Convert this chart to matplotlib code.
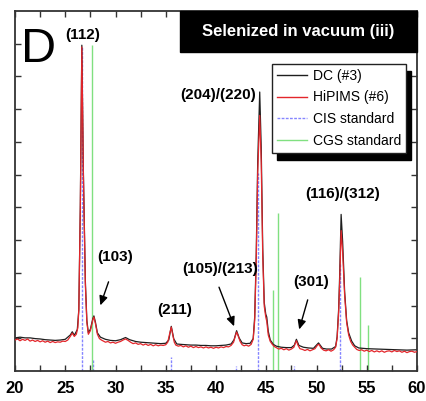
import matplotlib
matplotlib.use('Agg')
import matplotlib.pyplot as plt
import numpy as np
from matplotlib.lines import Line2D
from matplotlib.patches import Rectangle

# ---------------- data (intensity in arbitrary units, 0-100) ----------------
dc_x = [20.0, 20.5, 21.0, 21.5, 22.0, 22.5, 23.0, 23.5, 24.0, 24.5, 25.0, 25.5, 25.7, 25.9,
        26.2, 26.35, 26.5, 26.65, 26.8, 27.0, 27.15, 27.3, 27.5, 27.75, 27.85, 28.0, 28.2, 28.5,
        29.0, 29.5, 30.0, 30.5, 31.0, 31.4, 32.0, 32.5, 33.0, 33.5, 34.0, 34.5, 35.0, 35.3,
        35.55, 35.8, 36.1, 36.5, 37.0, 37.5, 38.0, 38.5, 39.0, 39.5, 40.0, 40.5, 41.0, 41.5,
        41.8, 42.05, 42.3, 42.6, 43.0, 43.4, 43.7, 43.85, 44.0, 44.15, 44.35, 44.5, 44.65,
        44.8, 44.95, 45.05, 45.2, 45.4, 45.7, 46.0, 46.5, 47.0, 47.5, 47.8, 48.0, 48.25, 48.7,
        49.2, 49.7, 50.2, 50.6, 51.0, 51.5, 51.9, 52.05, 52.2, 52.3, 52.45, 52.6, 52.8, 53.0,
        53.2, 53.5, 53.8, 54.2, 55.0, 56.0, 57.0, 58.0, 59.0, 60.0]
dc_y = [9.2, 9.4, 9.2, 9.2, 9.0, 8.9, 8.7, 8.6, 8.5, 8.6, 8.8, 10.0, 10.9, 9.9,
        11.5, 17.0, 46.0, 90.5, 56.0, 25.0, 14.0, 10.6, 11.6, 14.6, 15.3, 13.6, 10.6, 9.4,
        8.8, 8.5, 8.4, 8.7, 9.3, 8.7, 8.2, 8.0, 7.9, 7.8, 7.7, 7.6, 7.7, 8.6,
        12.4, 8.9, 7.5, 7.4, 7.3, 7.2, 7.2, 7.1, 7.1, 7.0, 7.0, 7.1, 7.2, 7.5,
        8.7, 11.2, 9.2, 7.8, 7.6, 7.7, 9.0, 15.0, 32.0, 58.0, 77.5, 62.0, 34.0,
        19.0, 15.8, 15.0, 11.0, 8.6, 7.4, 6.9, 6.6, 6.5, 6.5, 7.2, 8.8, 7.1, 6.6,
        6.4, 6.3, 7.8, 6.3, 6.1, 6.1, 6.8, 9.5, 17.0, 26.0, 43.5, 36.0, 22.0, 14.0,
        10.6, 8.3, 7.0, 6.4, 6.2, 6.1, 6.0, 5.9, 5.8, 5.9]

hp_x = [20.0, 20.25, 20.5, 20.75, 21.0, 21.25, 21.5, 21.75, 22.0, 22.25, 22.5, 22.75, 23.0,
        23.25, 23.5, 23.75, 24.0, 24.25, 24.5, 24.75, 25.0, 25.25, 25.5, 25.7, 25.9, 26.1,
        26.25, 26.35, 26.5, 26.65, 26.8, 27.0, 27.15, 27.3, 27.5, 27.75, 27.85, 28.0, 28.2,
        28.4, 28.6, 28.8, 29.0, 29.25, 29.5, 29.75, 30.0, 30.25, 30.5, 30.75, 31.0, 31.25,
        31.5, 31.75, 32.0, 32.25, 32.5, 32.75, 33.0, 33.25, 33.5, 33.75, 34.0, 34.25, 34.5,
        34.75, 35.0, 35.2, 35.4, 35.55, 35.7, 35.85, 36.0, 36.25, 36.5, 36.75, 37.0, 37.25,
        37.5, 37.75, 38.0, 38.25, 38.5, 38.75, 39.0, 39.25, 39.5, 39.75, 40.0, 40.25, 40.5,
        40.75, 41.0, 41.25, 41.5, 41.75, 41.9, 42.05, 42.2, 42.4, 42.6, 42.8, 43.0, 43.25,
        43.5, 43.7, 43.85, 44.0, 44.15, 44.35, 44.5, 44.65, 44.8, 44.95, 45.05, 45.2, 45.4,
        45.6, 45.8, 46.0, 46.25, 46.5, 46.75, 47.0, 47.25, 47.5, 47.75, 47.9, 48.0, 48.15,
        48.35, 48.6, 48.85, 49.1, 49.35, 49.6, 49.85, 50.1, 50.25, 50.45, 50.7, 50.95, 51.2,
        51.45, 51.7, 51.9, 52.05, 52.2, 52.3, 52.45, 52.6, 52.8, 53.0, 53.2, 53.4, 53.6,
        53.8, 54.0, 54.25, 54.5, 54.75, 55.0, 55.25, 55.5, 55.75, 56.0, 56.25, 56.5, 56.75,
        57.0, 57.25, 57.5, 57.75, 58.0, 58.25, 58.5, 58.75, 59.0, 59.25, 59.5, 59.75, 60.0]
hp_y = [8.6, 8.9, 8.4, 8.8, 8.5, 8.9, 8.3, 8.6, 8.2, 8.5, 8.1, 8.4, 8.0,
        8.3, 7.9, 8.2, 7.9, 8.1, 8.0, 8.3, 8.2, 8.6, 9.6, 10.5, 9.6, 10.2,
        12.0, 17.0, 45.0, 90.0, 55.0, 24.0, 13.5, 10.2, 11.2, 14.3, 15.0, 13.2, 10.2,
        9.0, 8.6, 8.3, 8.0, 8.2, 7.8, 8.0, 7.7, 8.0, 8.2, 8.6, 8.9, 8.5,
        8.0, 7.6, 7.8, 7.4, 7.6, 7.2, 7.5, 7.1, 7.4, 7.0, 7.3, 7.0, 7.2,
        7.1, 7.3, 8.0, 10.5, 12.2, 10.0, 8.0, 7.2, 6.9, 7.1, 6.7, 7.0, 6.6,
        6.9, 6.5, 6.8, 6.5, 6.7, 6.4, 6.7, 6.4, 6.6, 6.3, 6.6, 6.4, 6.7,
        6.5, 6.8, 6.7, 7.1, 8.0, 9.5, 10.8, 9.8, 8.2, 7.3, 7.0, 7.2, 6.9,
        7.4, 8.8, 14.0, 30.0, 55.0, 71.0, 58.0, 32.0, 18.0, 15.0, 13.8, 10.0, 8.2,
        7.4, 6.8, 6.5, 6.1, 6.3, 5.9, 6.2, 5.8, 6.1, 6.6, 7.8, 8.4, 7.2,
        6.2, 6.0, 5.7, 6.0, 5.6, 5.9, 6.2, 7.2, 7.4, 6.4, 5.8, 5.6, 5.9,
        5.5, 5.9, 6.6, 9.0, 16.0, 24.0, 39.0, 33.0, 21.0, 13.5, 10.0, 8.2, 7.2,
        6.6, 6.0, 5.7, 5.9, 5.5, 5.8, 5.4, 5.7, 5.3, 5.6, 5.3, 5.6, 5.2,
        5.5, 5.6, 5.3, 5.7, 5.4, 5.6, 5.2, 5.5, 5.1, 5.4, 5.5, 5.2, 5.4]

cis_pos = [26.62, 27.78, 35.55, 42.0, 44.2, 47.75, 52.35]
cis_int = [90.0, 3.0, 3.8, 1.5, 55.0, 1.5, 30.0]

cgs_pos = [27.68, 45.7, 46.2, 54.3, 55.1]
cgs_int = [90.5, 22.5, 44.0, 26.0, 12.7]

x_ticks = [20, 25, 30, 35, 40, 45, 50, 55, 60]
x_ticklabels = ['20', '25', '30', '35', '40', '45', '50', '55', '60']

peak_labels = ['(112)', '(103)', '(211)', '(105)/(213)', '(204)/(220)', '(301)', '(116)/(312)']

series_labels = ['DC (#3)', 'HiPIMS (#6)', 'CIS standard', 'CGS standard']
title_text = 'Selenized in vacuum (iii)'
panel_letter = 'D'

# ---------------- figure ----------------
narrow = ['Liberation Sans Narrow', 'Liberation Sans', 'DejaVu Sans']
plt.rcParams['font.family'] = ['Liberation Sans', 'DejaVu Sans']

fig = plt.figure(figsize=(4.27, 4.01), dpi=100)
ax = fig.add_axes([15 / 427, 30 / 401, 402 / 427, 360 / 401])

c_cis = '#8585ff'
c_cgs = '#80e080'
c_dc = '#1e1e1e'
c_hp = '#e3262b'

ax.vlines(cis_pos, 0, cis_int, colors=c_cis, linestyles=(0, (2, 1)), lw=1.0, zorder=1)
ax.vlines(cgs_pos, 0, cgs_int, colors=c_cgs, lw=1.0, zorder=1)
ax.plot(dc_x, dc_y, color=c_dc, lw=0.9, zorder=2)
ax.plot(hp_x, hp_y, color=c_hp, lw=0.9, zorder=3)

ax.set_xlim(20, 60)
ax.set_ylim(0, 100)
ax.set_xticks(x_ticks)
ax.set_xticklabels(x_ticklabels, fontweight='bold', fontsize=12, family=narrow)
ax.set_xticks(np.arange(22.5, 60, 5), minor=True)
ax.set_yticks(np.linspace(0, 100, 12)[1:-1])
ax.set_yticklabels([])
ax.tick_params(axis='both', which='both', direction='in', top=True, right=True,
               length=4, width=1, colors='#333333', labelcolor='black')
ax.tick_params(axis='x', which='major', pad=7)
for s in ax.spines.values():
    s.set_linewidth(1.3)
    s.set_color('#333333')

# title box
ax.add_patch(Rectangle((0.41, 0.886), 0.59, 0.114, transform=ax.transAxes,
                       facecolor='black', edgecolor='black', zorder=5, clip_on=False))
ax.text(0.704, 0.942, title_text, transform=ax.transAxes, ha='center', va='center',
        color='white', fontweight='bold', fontsize=12, family=narrow, zorder=6)

# panel letter
ax.text(0.058, 0.893, panel_letter, transform=ax.transAxes, ha='center', va='center',
        fontsize=35, zorder=6)

# peak labels
lab_kw = dict(ha='center', va='center', fontweight='bold', fontsize=11, family=narrow, zorder=6)
ax.text(26.7, 93.3, peak_labels[0], **lab_kw)
ax.text(30.0, 31.8, peak_labels[1], **lab_kw)
ax.text(35.9, 16.9, peak_labels[2], **lab_kw)
ax.text(40.4, 28.2, peak_labels[3], **lab_kw)
ax.text(40.2, 76.6, peak_labels[4], **lab_kw)
ax.text(49.5, 24.7, peak_labels[5], **lab_kw)
ax.text(52.6, 49.2, peak_labels[6], **lab_kw)

arr_kw = dict(arrowstyle='-|>,head_length=0.55,head_width=0.25', color='black', lw=1.0)
ax.annotate('', xy=(28.4, 17.5), xytext=(29.4, 25.5), arrowprops=arr_kw)
ax.annotate('', xy=(41.9, 11.7), xytext=(40.2, 24.0), arrowprops=arr_kw)
ax.annotate('', xy=(48.2, 10.8), xytext=(49.2, 20.5), arrowprops=arr_kw)

# legend
handles = [Line2D([], [], color=c_dc, lw=1.0),
           Line2D([], [], color=c_hp, lw=1.0),
           Line2D([], [], color=c_cis, lw=1.0, ls=(0, (2, 1))),
           Line2D([], [], color=c_cgs, lw=1.0)]
leg = ax.legend(handles, series_labels, loc='upper right', bbox_to_anchor=(0.973, 0.853),
                fontsize=10, frameon=True, fancybox=False, borderpad=0.35,
                labelspacing=0.55, handlelength=2.2, handletextpad=0.4, borderaxespad=0,
                shadow={'ox': 3.5, 'oy': -5, 'color': 'black', 'alpha': 1.0})
leg.get_frame().set_edgecolor('#222222')
leg.get_frame().set_linewidth(1.0)
leg.set_zorder(7)

fig.savefig('out.png', dpi=100)
